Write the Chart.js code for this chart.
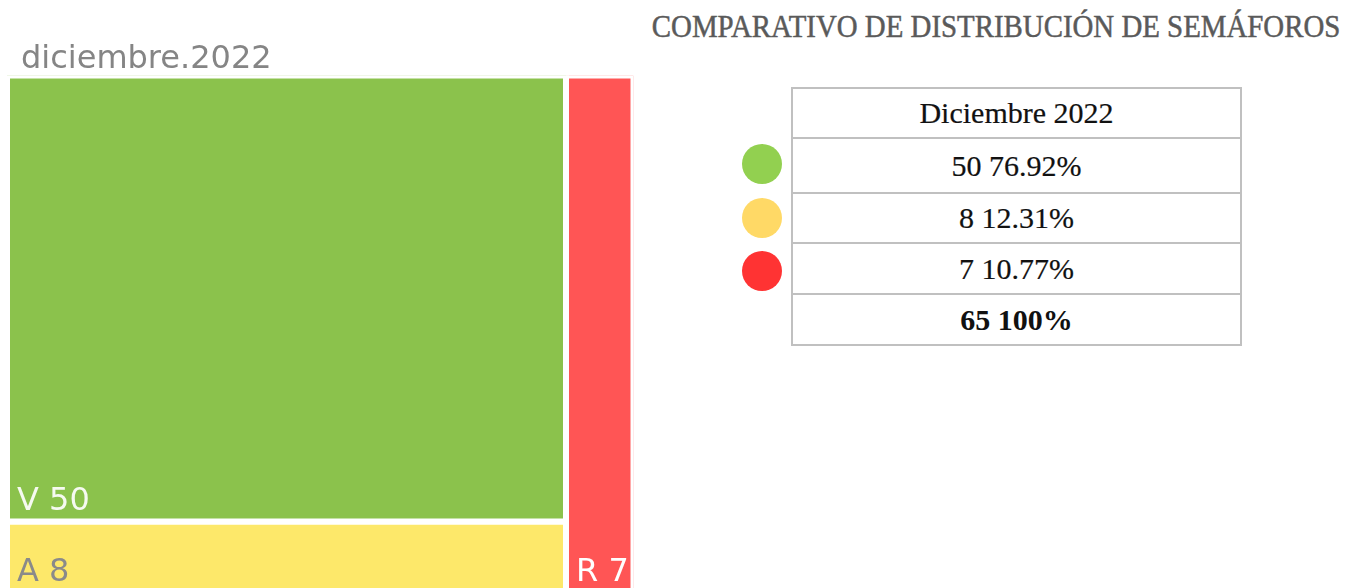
<!DOCTYPE html>
<html>
<head>
<meta charset="utf-8">
<script src="https://cdn.jsdelivr.net/npm/chart.js@4.4.0/dist/chart.umd.min.js"></script>
<style>
  body { margin: 0; background: #fff; overflow: hidden; width: 1345px; height: 588px; position: relative; }
  #caja { position: absolute; left: 0; top: 0; width: 640px; height: 597px; }
  #titulo { position: absolute; right: 5px; top: 10px; font-family: 'Liberation Serif', serif; font-size: 32px;
            line-height: 32px; color: #5a5a5a; white-space: nowrap; transform: scaleX(0.902); transform-origin: right top;
            -webkit-text-stroke: 0.5px #5a5a5a; }
  #tabla { position: absolute; left: 791px; top: 87px; border-collapse: collapse; font-family: 'Liberation Serif', serif;
           font-size: 30px; color: #111; }
  #tabla td { border: 2px solid #c0c0c0; width: 447px; text-align: center; padding: 0; -webkit-text-stroke: 0.2px #111; }
  #tabla tr:nth-child(1) td { height: 48px; }
  #tabla tr:nth-child(2) td { height: 53px; }
  #tabla tr:nth-child(3) td { height: 48px; }
  #tabla tr:nth-child(4) td { height: 49px; }
  #tabla tr:nth-child(5) td { height: 49px; font-weight: bold; -webkit-text-stroke: 0; }
  .bola { position: absolute; width: 40px; height: 40px; border-radius: 50%; left: 742px; }
</style>
</head>
<body>
<div id="caja"><canvas id="treemap" width="640" height="597"></canvas></div>
<div id="titulo">COMPARATIVO DE DISTRIBUCIÓN DE SEMÁFOROS</div>
<table id="tabla"></table>

<script>
const tituloMes = 'diciembre.2022';
const encabezado = 'Diciembre 2022';
const categorias = ['V', 'A', 'R'];
const valores = [50, 8, 7];
const porcentajes = [76.92, 12.31, 10.77];
const columnas = [[0, 1], [2]]; // V y A comparten columna, R va sola

const colores = ['#8bc24c', '#fde86a', '#ff5555'];
const coloresTexto = ['rgba(255,255,255,0.92)', '#8a8a8a', '#ffffff'];
const coloresBola = ['#92d050', '#ffd966', '#ff3333'];
const topsBola = [144, 198, 251];

const total = valores.reduce((a, b) => a + b, 0);

// treemap slice-and-dice: columnas en x, celdas apiladas en y (0..1)
const celdas = [];
let xAcum = 0;
columnas.forEach(col => {
  const suma = col.reduce((a, i) => a + valores[i], 0);
  let yAcum = 0;
  col.forEach(i => {
    celdas[i] = { x0: xAcum, x1: xAcum + suma, y0: yAcum, y1: yAcum + valores[i] / suma };
    yAcum += valores[i] / suma;
  });
  xAcum += suma;
});

const datasets = categorias.map((c, i) => {
  const r = celdas[i];
  return {
    label: c + ' ' + valores[i],
    data: [
      { x: r.x0, y: r.y0 }, { x: r.x1, y: r.y0 }, { x: r.x1, y: r.y1 },
      { x: r.x0, y: r.y1 }, { x: r.x0, y: r.y0 }
    ],
    showLine: true,
    fill: 'shape',
    backgroundColor: colores[i],
    borderColor: '#ffffff',
    borderWidth: 6,
    pointRadius: 0,
    tension: 0
  };
});

const etiquetas = {
  id: 'etiquetas',
  afterDatasetsDraw(chart) {
    const { ctx, chartArea } = chart;
    const x = chart.scales.x, y = chart.scales.y;
    ctx.save();
    ctx.textBaseline = 'alphabetic';
    ctx.font = '32px "DejaVu Sans"';
    categorias.forEach((c, i) => {
      const r = celdas[i];
      ctx.fillStyle = coloresTexto[i];
      ctx.fillText(c + ' ' + valores[i], x.getPixelForValue(r.x0) + 10, y.getPixelForValue(r.y1) - 12);
    });
    ctx.fillStyle = '#858585';
    ctx.fillText(tituloMes, chartArea.left + 14, chartArea.top - 8);
    ctx.restore();
  }
};

new Chart(document.getElementById('treemap'), {
  type: 'scatter',
  data: { datasets: datasets },
  options: {
    responsive: false,
    animation: false,
    devicePixelRatio: 1,
    layout: { padding: { left: 7, right: 6.5, top: 75.5, bottom: 4 } },
    scales: {
      x: { type: 'linear', min: 0, max: total, display: false },
      y: { type: 'linear', min: 0, max: 1, reverse: true, display: false }
    },
    plugins: { legend: { display: false }, tooltip: { enabled: false } }
  },
  plugins: [etiquetas]
});

// tabla de la derecha
const tabla = document.getElementById('tabla');
let filas = `<tr><td>${encabezado}</td></tr>`;
valores.forEach((v, i) => {
  filas += `<tr><td>${v} ${porcentajes[i].toFixed(2)}%</td></tr>`;
});
filas += `<tr><td>${total} 100%</td></tr>`;
tabla.innerHTML = filas;

coloresBola.forEach((c, i) => {
  const b = document.createElement('div');
  b.className = 'bola';
  b.style.background = c;
  b.style.top = topsBola[i] + 'px';
  document.body.appendChild(b);
});
</script>
</body>
</html>
